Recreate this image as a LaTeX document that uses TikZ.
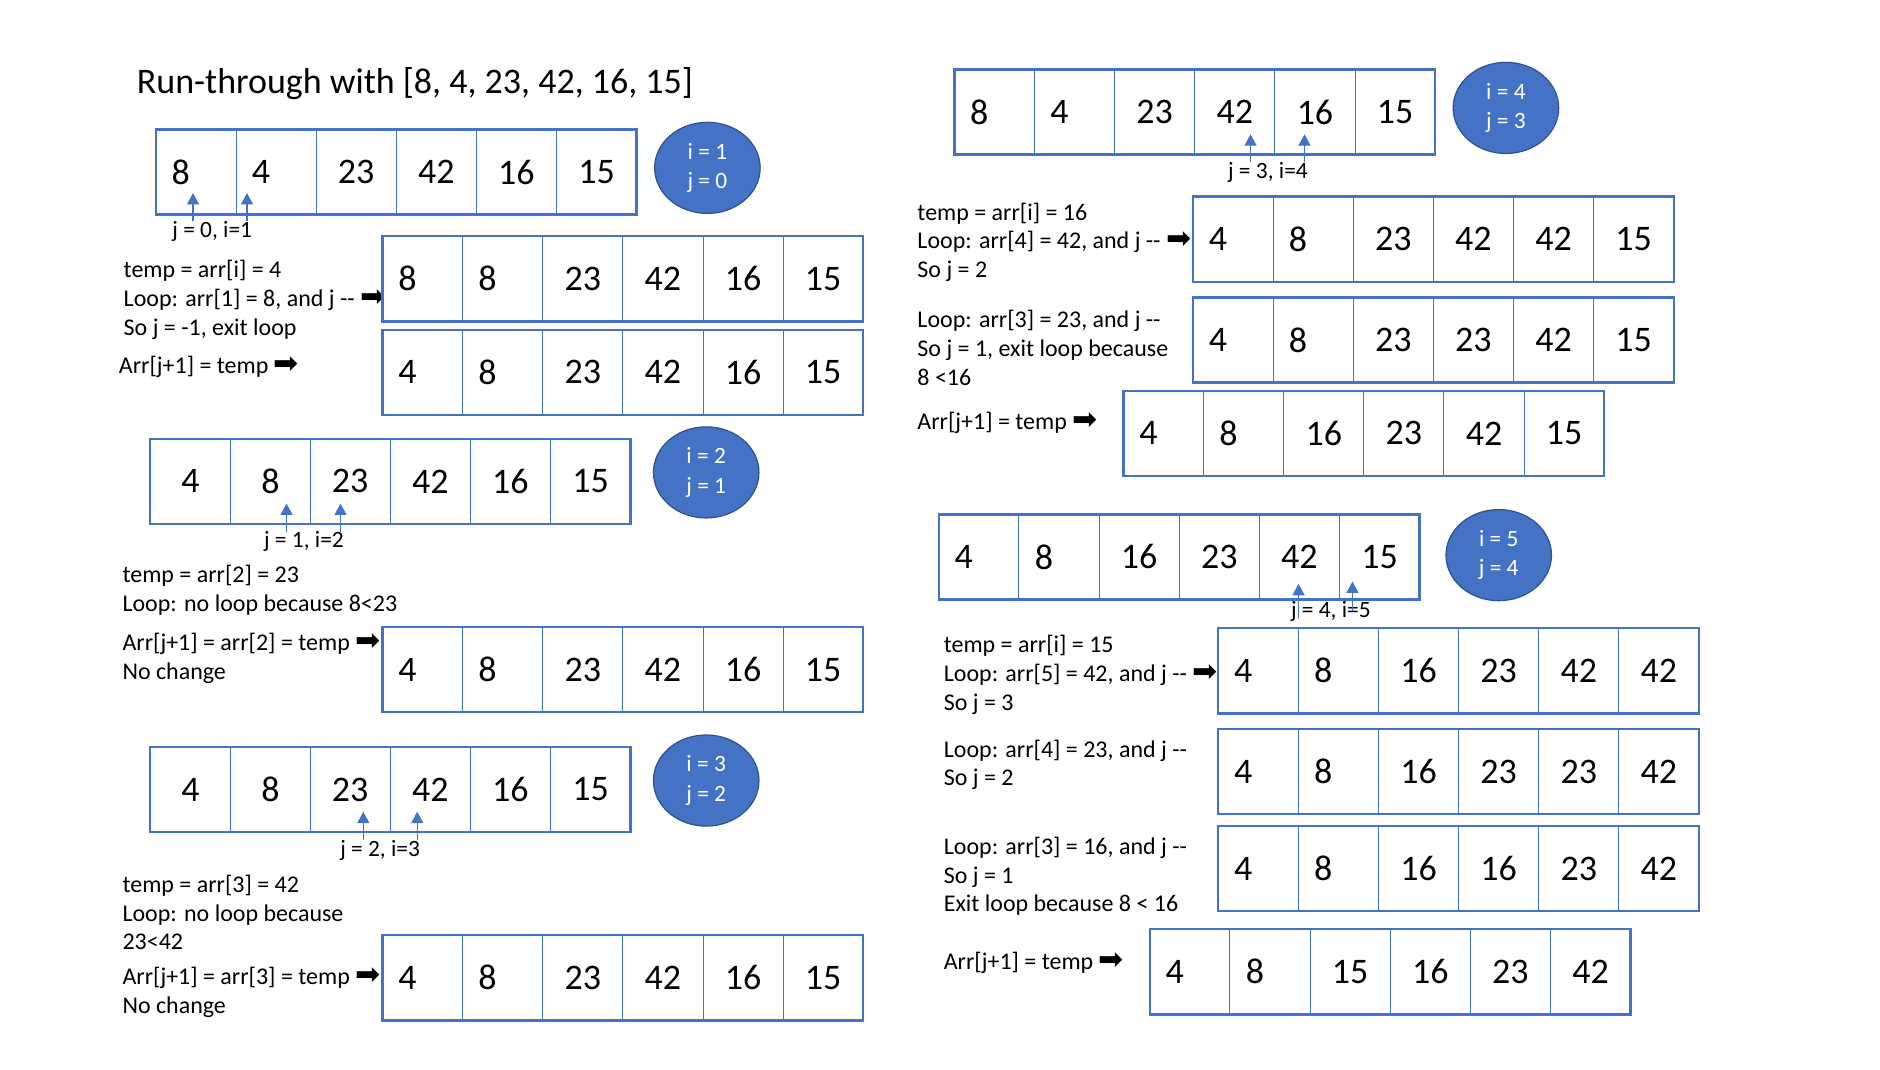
\documentclass[tikz,border=0pt]{standalone}
\usepackage{fontspec}
\setmainfont{Carlito}
\newfontfamily\arrowfont{DejaVu Sans}
\usepackage{tikz}
\usetikzlibrary{arrows.meta,shapes.geometric}

\definecolor{arrblue}{HTML}{4472C4}
\definecolor{ringblue}{HTML}{2F528F}

\newcommand{\thenarrow}{{\arrowfont\fontsize{25}{24}\selectfont ➡}}
% #1 offset of the one-digit values, #2 name, #3 x, #4 y, #5 values
\newcommand{\drawarr}[5][13]{%
  \foreach \val [count=\k] in {#5} {
    \node[arrcell] (#2-\k) at ({#3+(\k-1)*66.83},#4) {};
    \ifnum\k<3
      \node[numtext, anchor=west] (#2-v\k) at ([xshift=#1pt]#2-\k.west) {\val};
    \else
      \node[numtext] (#2-v\k) at (#2-\k) {\val};
    \fi
  }
  \draw[arrframe] (#2-1.north west) rectangle (#2-6.south east);
}

\begin{document}
\begin{tikzpicture}[x=1pt, y=-1pt,
  arrcell/.style={draw=arrblue, line width=0.8pt, anchor=north west,
    minimum width=66.83pt, minimum height=71pt, inner sep=0pt, outer sep=0pt},
  numtext/.style={inner sep=0pt, font=\fontsize{30}{36}\selectfont},
  arrframe/.style={draw=arrblue, line width=2pt},
  badge/.style={ellipse, draw=ringblue, line width=1pt, fill=arrblue, text=white,
    minimum width=88pt, minimum height=76pt, inner sep=0pt, align=center,
    font=\fontsize{19.5}{24.5}\selectfont},
  idxlabel/.style={inner sep=0pt, font=\fontsize{19.5}{23}\selectfont},
  stepnote/.style={anchor=west, align=left, inner sep=0pt, font=\fontsize{20}{24}\selectfont},
  upptr/.style={draw=arrblue, line width=1pt, -{Triangle[width=10pt,length=9.5pt]}}]
  \path[use as bounding box, fill=white] (0,0) rectangle (1568,892);

  \node[anchor=west, inner sep=0pt, font=\fontsize{30}{36}\selectfont] (title) at (114,70)
    {Run-through with [8, 4, 23, 42, 16, 15]};

  % i = 1
  \drawarr{A1}{130}{108}{8,4,23,42,16,15}
  \node[badge] (c1) at (590,140) {i = 1\\j = 0};
  \node[idxlabel] (lbl1) at (177,193) {j = 0, i=1};
  \coordinate (j1) at ([xshift=31pt,yshift=18pt]A1-1.south west);
  \coordinate (i1) at ([xshift=76pt,yshift=18pt]A1-1.south west);
  \draw[upptr] (lbl1.north -| j1) -- (j1);
  \draw[upptr] (lbl1.north -| i1) -- (i1);
  \node[stepnote] (t1) at (103,250) {temp = arr[i] = 4\\Loop: arr[1] = 8, and j -{}- \thenarrow\\So j = -1, exit loop};
  \drawarr{A2}{319}{197}{8,8,23,42,16,15}
  \node[stepnote] (t2) at (99,306) {Arr[j+1] = temp \thenarrow};
  \drawarr{A3}{319}{275}{4,8,23,42,16,15}

  % i = 2
  \drawarr[26]{A4}{125}{366}{4,8,23,42,16,15}
  \node[badge] (c2) at (589,394) {i = 2\\j = 1};
  \node[idxlabel] (lbl2) at (253.5,452) {j = 1, i=2};
  \coordinate (j2) at ([xshift=114pt,yshift=17pt]A4-1.south west);
  \coordinate (i2) at ([xshift=159pt,yshift=17pt]A4-1.south west);
  \draw[upptr] (lbl2.north -| j2) -- (j2);
  \draw[upptr] (lbl2.north -| i2) -- (i2);
  \node[stepnote] (t3) at (102,492) {temp = arr[2] = 23\\Loop: no loop because 8<23};
  \node[stepnote] (t4) at (102,549) {Arr[j+1] = arr[2] = temp \thenarrow\\No change};
  \drawarr{A5}{319}{523}{4,8,23,42,16,15}

  % i = 3
  \drawarr[26]{A6}{125}{623}{4,8,23,42,16,15}
  \node[badge] (c3) at (589,651) {i = 3\\j = 2};
  \node[idxlabel] (lbl3) at (317,709) {j = 2, i=3};
  \coordinate (j3) at ([xshift=178pt,yshift=17pt]A6-1.south west);
  \coordinate (i3) at ([xshift=223pt,yshift=17pt]A6-1.south west);
  \draw[upptr] (lbl3.north -| j3) -- (j3);
  \draw[upptr] (lbl3.north -| i3) -- (i3);
  \node[stepnote] (t5) at (102,761) {temp = arr[3] = 42\\Loop: no loop because\\23<42};
  \node[stepnote] (t6) at (102,827.5) {Arr[j+1] = arr[3] = temp \thenarrow\\No change};
  \drawarr{A7}{319}{780}{4,8,23,42,16,15}

  % i = 4
  \drawarr{B1}{796}{58}{8,4,23,42,16,15}
  \node[badge] (c4) at (1256,90) {i = 4\\j = 3};
  \node[idxlabel] (lbl4) at (1057.5,144) {j = 3, i=4};
  \coordinate (j4) at ([xshift=247pt,yshift=17pt]B1-1.south west);
  \coordinate (i4) at ([xshift=292pt,yshift=17pt]B1-1.south west);
  \draw[upptr] (lbl4.north -| j4) -- (j4);
  \draw[upptr] (lbl4.north -| i4) -- (i4);
  \node[stepnote] (r1) at (765,202) {temp = arr[i] = 16\\Loop: arr[4] = 42, and j -{}- \thenarrow\\So j = 2};
  \drawarr{B2}{995}{164}{4,8,23,42,42,15}
  \node[stepnote] (r2) at (765,290) {Loop: arr[3] = 23, and j -{}-\\So j = 1, exit loop because\\8 <16};
  \drawarr{B3}{995}{248}{4,8,23,23,42,15}
  \node[stepnote] (r3) at (765,353) {Arr[j+1] = temp \thenarrow};
  \drawarr{B4}{937}{326}{4,8,16,23,42,15}

  % i = 5
  \drawarr{B5}{783}{429}{4,8,16,23,42,15}
  \node[badge] (c5) at (1250,463) {i = 5\\j = 4};
  \node[idxlabel] (lbl5) at (1110,510) {j = 4, i=5};
  \coordinate (j5) at ([xshift=300pt,yshift=13pt]B5-1.south west);
  \coordinate (i5) at ([xshift=345pt,yshift=15pt]B5-1.south west);
  \draw[upptr] ([yshift=-6pt]lbl5.center -| j5) -- (j5);
  \draw[upptr] (lbl5.center -| i5) -- (i5);
  \node[stepnote] (r4) at (787,563) {temp = arr[i] = 15\\Loop: arr[5] = 42, and j -{}- \thenarrow\\So j = 3};
  \drawarr{B6}{1016}{524}{4,8,16,23,42,42}
  \node[stepnote] (r5) at (787,638) {Loop: arr[4] = 23, and j -{}-\\So j = 2};
  \drawarr{B7}{1016}{608}{4,8,16,23,23,42}
  \node[stepnote] (r6) at (787,731) {Loop: arr[3] = 16, and j -{}-\\So j = 1\\Exit loop because 8 < 16};
  \drawarr{B8}{1016}{689}{4,8,16,16,23,42}
  \node[stepnote] (r7) at (787,803) {Arr[j+1] = temp \thenarrow};
  \drawarr{B9}{959}{775}{4,8,15,16,23,42}
\end{tikzpicture}
\end{document}
